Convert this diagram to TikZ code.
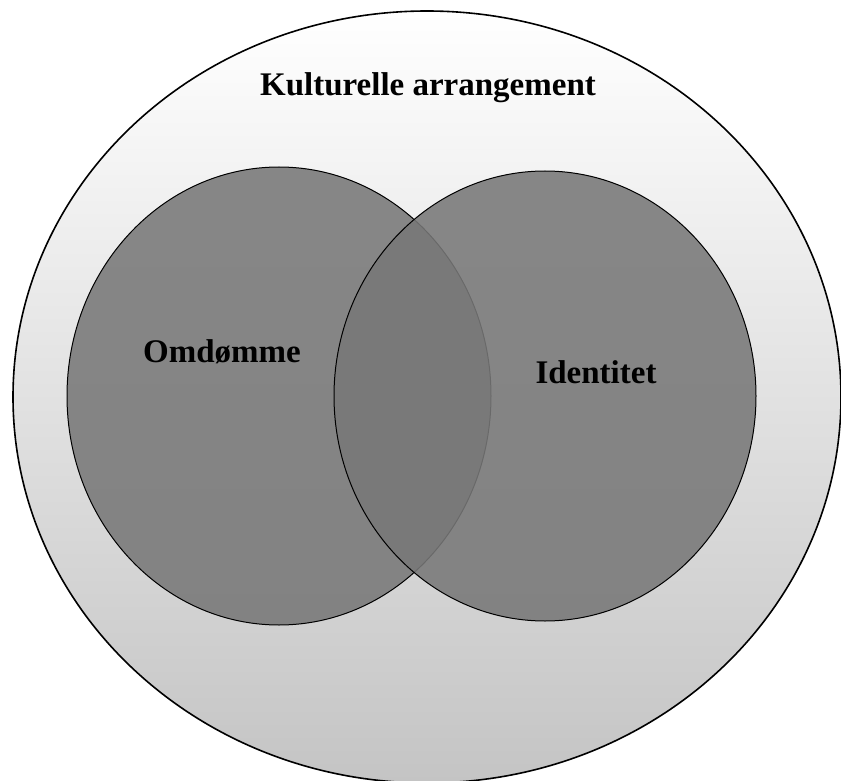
\documentclass[tikz,border=0pt]{standalone}
\usepackage{fontspec}
\setmainfont{Liberation Serif}
\usepackage{xcolor}
\definecolor{ringgray}{RGB}{196,196,196}
\definecolor{setgray}{RGB}{120,120,120}
\usetikzlibrary{positioning}

\begin{document}
\begin{tikzpicture}[x=1pt, y=-1pt,
  rim/.style={draw=black, line width=1.6pt},
  setfill/.style={fill=setgray, fill opacity=0.88, draw=black, line width=1pt},
  lbl/.style={inner sep=0pt, font=\fontsize{33}{37}\selectfont\bfseries}]

  \useasboundingbox (0,0) rectangle (841,781);

  % outer frame: cultural arrangement
  \shade[top color=white, middle color=white!94!black, bottom color=ringgray]
    (427,397) ellipse [x radius=414, y radius=386];
  \draw[rim] (427,397) ellipse [x radius=414, y radius=386];

  % the two overlapping sets
  \path[setfill] (279,396) ellipse [x radius=212, y radius=229];
  \path[setfill] (545,396) ellipse [x radius=211, y radius=225];

  \node[lbl] (kultur) at (428,88) {Kulturelle arrangement};
  \node[lbl] (omd) at (222,352) {Omdømme};
  \node[lbl] (ident) at (596,372) {Identitet};
\end{tikzpicture}
\end{document}
